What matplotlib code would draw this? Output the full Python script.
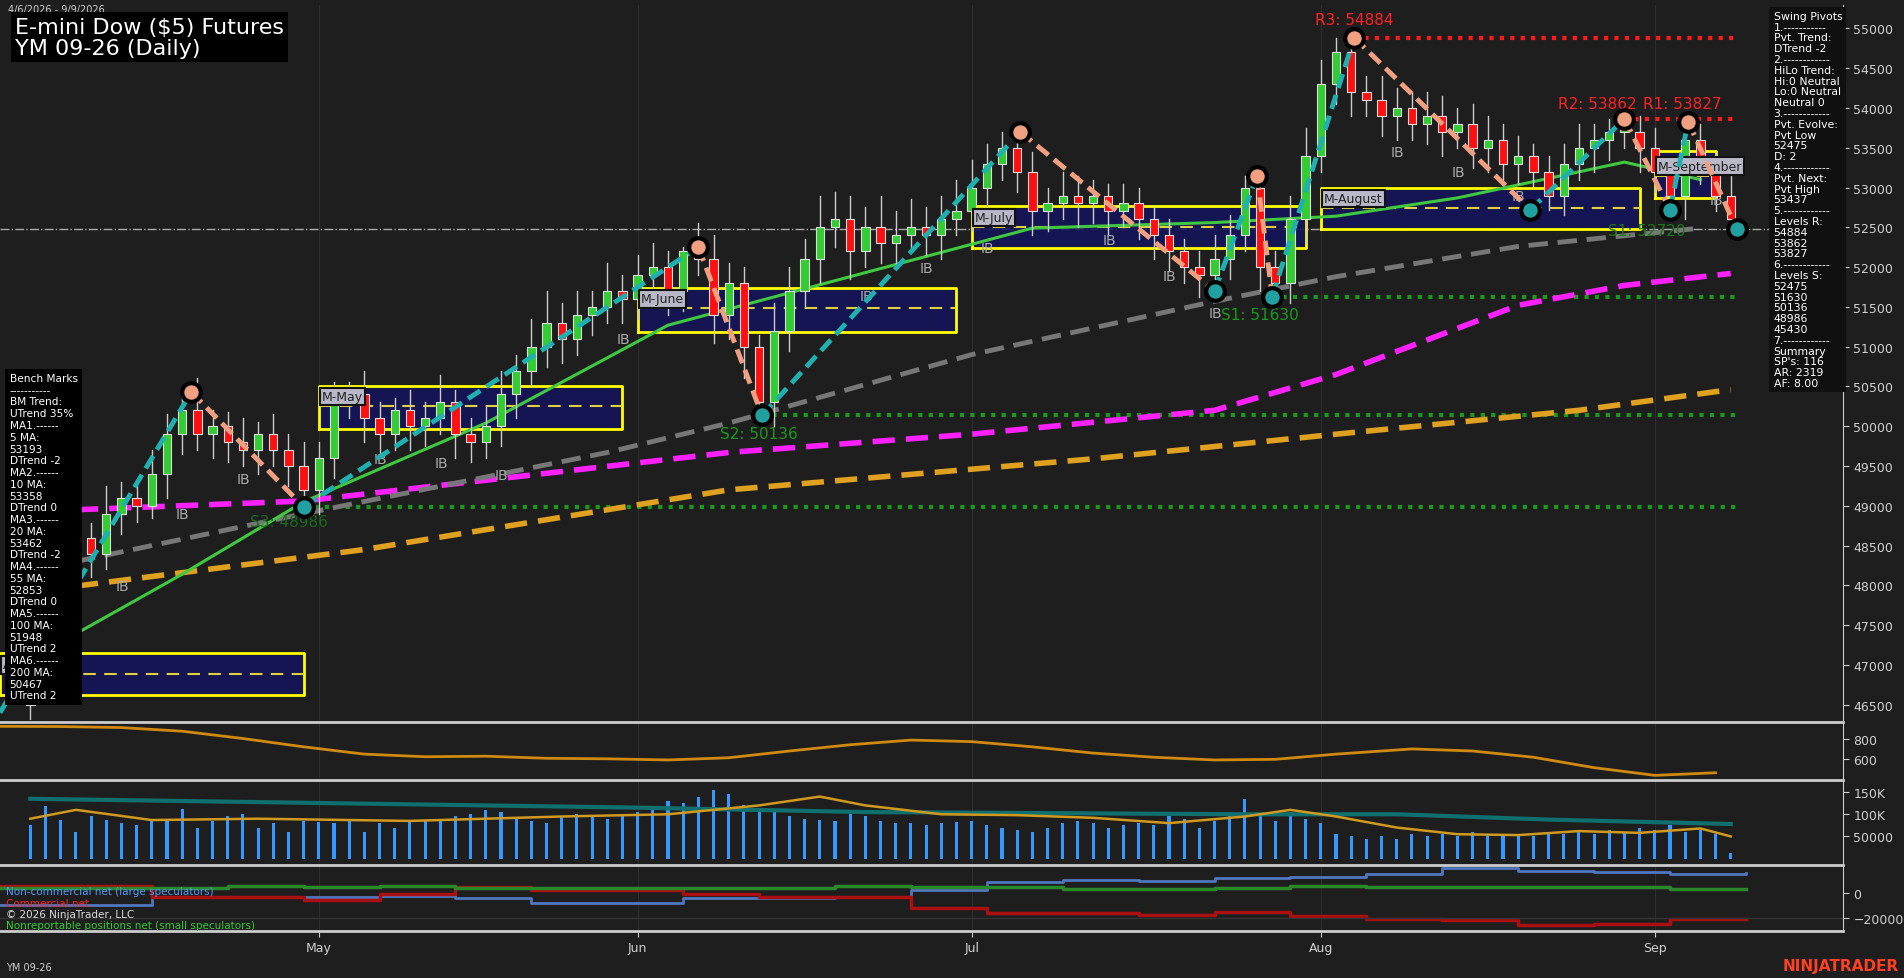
import matplotlib.pyplot as plt
import numpy as np

# daily closes, Apr 6 - Sep 9 2026
closes = [46700, 47200, 48000, 48600, 48400, 48900, 49100, 49000, 49400, 49900,
          50200, 49900, 50000, 49800, 49700, 49900, 49700, 49500, 49200, 49600,
          50300, 50400, 50100, 49900, 50200, 50000, 50100, 50300, 49900, 49800,
          50000, 50400, 50700, 51000, 51300, 51100, 51400, 51500, 51700, 51600,
          51900, 52000, 51700, 52200, 52100, 51400, 51800, 51000, 50300, 51200,
          51700, 52100, 52500, 52600, 52200, 52500, 52300, 52400, 52500, 52400,
          52600, 52700, 53000, 53300, 53500, 53200, 52700, 52800, 52900, 52800,
          52900, 52700, 52800, 52600, 52400, 52200, 52000, 51900, 52100, 52400,
          53000, 52000, 51800, 52600, 53400, 54300, 54700, 54200, 54100, 53900,
          54000, 53800, 53900, 53700, 53800, 53500, 53600, 53300, 53400, 53200,
          52900, 53300, 53500, 53600, 53700, 53700, 53500, 53200, 52900, 53600,
          53300, 52900, 52600]
wick_up = [150, 200, 300, 250, 180, 350, 200, 150, 300, 250,
           230, 400, 200, 180, 300, 150, 250, 200, 300, 200,
           250, 150, 300, 200, 150, 250, 200, 350, 150, 200,
           250, 300, 200, 350, 400, 250, 300, 200, 350, 200,
           250, 300, 200, 50, 350, 300, 250, 200, 150, 350,
           300, 250, 400, 350, 300, 250, 400, 300, 350, 250,
           300, 400, 350, 250, 200, 300, 250, 200, 300, 250,
           200, 150, 250, 200, 150, 200, 150, 200, 300, 250,
           150, 250, 200, 300, 350, 300, 184, 250, 200, 300,
           250, 200, 300, 250, 200, 250, 300, 200, 250, 150,
           200, 250, 300, 200, 162, 150, 200, 250, 150, 227,
           200, 150, 250]
wick_dn = [200, 150, 250, 200, 300, 200, 250, 200, 150, 300,
           250, 200, 300, 250, 200, 300, 200, 250, 214, 300,
           250, 200, 300, 250, 200, 300, 250, 200, 300, 250,
           200, 250, 300, 200, 250, 300, 200, 250, 200, 300,
           250, 200, 300, 250, 200, 350, 300, 400, 164, 300,
           250, 200, 300, 250, 350, 200, 250, 300, 200, 250,
           300, 200, 250, 300, 200, 250, 300, 250, 200, 300,
           250, 300, 200, 250, 300, 250, 200, 270, 300, 250,
           200, 300, 170, 250, 300, 200, 250, 300, 200, 250,
           300, 200, 250, 300, 200, 250, 300, 200, 250, 180,
           180, 250, 200, 300, 250, 200, 300, 250, 180, 300,
           250, 200, 125]
ib_bars = [5, 9, 13, 17, 22, 26, 30, 38, 54, 58, 62, 70, 74, 77, 89, 93, 97, 110]

month_idx = [19, 40, 62, 85, 107]
month_lbl = ["May", "Jun", "Jul", "Aug", "Sep"]

# moving averages, sampled along the chart (index, price)
ma20 = [(0, 47070), (10, 48140), (18, 49050), (30, 50040), (42, 51270), (54, 51880),
        (66, 52490), (78, 52560), (86, 52640), (94, 52870), (105, 53320), (110, 53100)]
ma55 = [(3, 48300), (18, 48900), (38, 49670), (46, 50040), (62, 50900), (78, 51570),
        (86, 51880), (98, 52260), (110, 52490)]
ma100 = [(3, 48950), (18, 49060), (46, 49670), (62, 49900), (78, 50200), (86, 50650),
         (98, 51520), (105, 51770), (112, 51920)]
ma200 = [(3, 47990), (22, 48450), (46, 49200), (70, 49590), (86, 49900), (102, 50200),
         (112, 50460)]

# swing pivots (index, price, kind)
pivots = [(-2, 46400, "L"), (10.6, 50430, "H"), (18, 48986, "L"), (44, 52250, "H"),
          (48.2, 50136, "L"), (65.2, 53700, "H"), (78, 51700, "L"), (80.8, 53150, "H"),
          (81.8, 51630, "L"), (87.2, 54884, "H"), (98.8, 52720, "L"), (105, 53862, "H"),
          (108, 52720, "L"), (109.2, 53827, "H"), (112.4, 52475, "L")]

# monthly boxes: start, end, high, low, mid, label
months = [(-2, 18, 47150, 46620, 46880, "April"), (19, 39, 50500, 49970, 50250, "M-May"),
          (40, 61, 51740, 51190, 51480, "M-June"), (62, 84, 52770, 52240, 52500, "M-July"),
          (85, 106, 53000, 52480, 52740, "M-August"), (107, 111, 53460, 52870, 53150, "M-September")]

res_levels = [(87.2, 54884), (105, 53862)]
sup_levels = [(81.8, 51630), (48.2, 50136), (18, 48986)]

# lower panels
atr = [(-2, 917), (2, 915), (6, 905), (10, 870), (14, 800), (18, 720), (22, 650), (26, 625),
       (30, 630), (34, 610), (38, 605), (42, 594), (46, 615), (50, 680), (54, 740), (58, 785),
       (62, 770), (66, 720), (70, 660), (74, 620), (78, 594), (82, 600), (86, 650), (91, 700),
       (95, 680), (99, 620), (103, 520), (107, 446), (111, 471)]
volume = [75, 118, 88, 60, 96, 88, 80, 75, 90, 85, 112, 70, 85, 95, 100, 70, 80, 60, 85,
          82, 80, 85, 60, 80, 70, 82, 85, 90, 95, 100, 110, 105, 90, 85, 80, 95, 100, 95, 90, 100,
          105, 110, 130, 125, 140, 155, 145, 120, 110, 105, 95, 90, 88, 85, 100, 95, 85, 80, 80, 75, 80,
          82, 85, 75, 70, 65, 60, 70, 80, 85, 80, 70, 75, 80, 75, 95, 90, 70, 85, 100, 135, 95, 85,
          105, 90, 80, 55, 50, 45, 50, 45, 55, 50, 55, 50, 60, 55, 50, 55, 50, 60, 55, 60, 55,
          65, 60, 70, 65, 75, 60, 65, 55, 12]
vol_ma = [(0, 90), (3, 110), (8, 87), (15, 90), (25, 85), (35, 95), (42, 100), (48, 120),
          (52, 140), (55, 120), (60, 100), (65, 98), (70, 92), (75, 80), (80, 95), (83, 110),
          (86, 95), (90, 70), (94, 55), (98, 53), (102, 62), (106, 58), (110, 68), (112, 50)]
vol_avg = [(0, 135), (20, 125), (40, 115), (55, 105), (80, 100), (90, 100), (100, 88), (112, 78)]

cot_noncomm = [-10000, -10000, -3500, -3500, -3000, -2500, -4500, -8500, -8000, -4500, -4000,
               -3000, 2500, 8500, 10500, 10000, 12000, 12500, 15500, 20000, 18000, 17000,
               15000, 16500]
cot_comm = [6000, 6000, -3500, -3500, -5500, -500, 4500, 2000, 2000, -1000, -3000, -3000,
            -12000, -16000, -16000, -18000, -15500, -19000, -21500, -22000, -26000, -25000,
            -21000, -21000]
cot_small = [3800, 3800, 4000, 5500, 5000, 5500, 4000, 4200, 4200, 4200, 4200, 6000, 5000,
             5000, 3000, 3000, 4000, 6000, 5000, 4500, 5000, 5000, 3000, 3000]

swing_text = ("Swing Pivots\n1.-----------\nPvt. Trend:\nDTrend -2\n2.------------\nHiLo Trend:\n"
              "Hi:0 Neutral\nLo:0 Neutral\nNeutral 0\n3.------------\nPvt. Evolve:\nPvt Low\n52475\n"
              "D: 2\n4.------------\nPvt. Next:\nPvt High\n53437\n5.------------\nLevels R:\n54884\n"
              "53862\n53827\n6.------------\nLevels S:\n52475\n51630\n50136\n48986\n45430\n"
              "7.------------\nSummary\nSP's: 116\nAR: 2319\nAF: 8.00")
bench_text = ("Bench Marks\n-----------\nBM Trend:\nUTrend 35%\nMA1.------\n5 MA:\n53193\nDTrend -2\n"
              "MA2.------\n10 MA:\n53358\nDTrend 0\nMA3.------\n20 MA:\n53462\nDTrend -2\nMA4.------\n"
              "55 MA:\n52853\nDTrend 0\nMA5.------\n100 MA:\n51948\nUTrend 2\nMA6.------\n200 MA:\n"
              "50467\nUTrend 2")

BG = "#1e1e1e"
FG = "#d0d0d0"
XMIN, XMAX = -2, 119.4

fig = plt.figure(figsize=(19.04, 9.79), dpi=100, facecolor=BG)
ax = fig.add_axes([0, 0.2635, 0.968, 0.730])
ax2 = fig.add_axes([0, 0.204, 0.968, 0.057], sharex=ax)
ax3 = fig.add_axes([0, 0.1175, 0.968, 0.085], sharex=ax)
ax4 = fig.add_axes([0, 0.048, 0.968, 0.067], sharex=ax)

for a in (ax, ax2, ax3, ax4):
    a.set_facecolor(BG)
    a.yaxis.tick_right()
    a.tick_params(colors=FG, labelsize=9, length=4)
    for s in a.spines.values():
        s.set_visible(False)
    a.spines["right"].set_visible(True)
    a.spines["right"].set_color("#cccccc")
    for m in month_idx:
        a.axvline(m, color="#2e2e2e", lw=0.8, zorder=0)
for a in (ax2, ax3, ax4):
    a.spines["top"].set_visible(True)
    a.spines["top"].set_color("#cccccc")
    a.spines["top"].set_linewidth(2)
ax4.spines["bottom"].set_visible(True)
ax4.spines["bottom"].set_color("#cccccc")
ax4.spines["bottom"].set_linewidth(2)

ax.set_xlim(XMIN, XMAX)
ax.set_ylim(46307, 55290)
ax.set_yticks(np.arange(46500, 55001, 500))
ax.set_yticklabels([str(v) for v in np.arange(46500, 55001, 500)])

# horizontal reference lines
ax.axhline(52475, color="#aaaaaa", lw=1, ls="-.", zorder=1)
for i, p in res_levels:
    ax.plot([i, 112.5], [p, p], color="#ff1a1a", lw=3, ls=(0, (1, 1.5)), zorder=3)
for i, p in sup_levels:
    ax.plot([i, 112.5], [p, p], color="#1a9a1a", lw=3, ls=(0, (1, 1.5)), zorder=1)

# monthly boxes
for s, e, hi, lo, mid, lbl in months:
    ax.fill_between([s, e], lo, hi, color="#14145a", alpha=0.9, zorder=1)
    ax.plot([s, e, e, s, s], [lo, lo, hi, hi, lo], color="#ffff00", lw=2, zorder=2)
    ax.plot([s, e], [mid, mid], color="#e0d040", lw=1.5, ls=(0, (6, 4)), zorder=2)
    ax.text(s + 0.2, mid + 120, lbl, fontsize=9, color="#222222", va="center",
            bbox=dict(facecolor="#b8b8c8", edgecolor="#111111", lw=1.5, pad=1.5), zorder=6)

# moving averages
for pts, col, lw, ls in [(ma200, "#e0a020", 4, (0, (4, 2))), (ma100, "#ff20ff", 4, (0, (4, 2))),
                         (ma55, "#777777", 3.5, (0, (4, 2))), (ma20, "#40c840", 2.2, "-")]:
    xs, ys = zip(*pts)
    ax.plot(xs, ys, color=col, lw=lw, ls=ls, zorder=3)

# candles
opens = [closes[0] - 200] + closes[:-1]
for i, (o, c) in enumerate(zip(opens, closes)):
    hi = max(o, c) + wick_up[i]
    lo = min(o, c) - wick_dn[i]
    col = "#33cc33" if c >= o else "#ff1010"
    ax.plot([i, i], [lo, hi], color="#cccccc", lw=1, zorder=4)
    ax.bar(i, max(abs(c - o), 20), bottom=min(o, c), width=0.55, color=col,
           edgecolor="#dddddd", lw=0.8, zorder=5)
    if i in ib_bars:
        ax.text(i + 0.6, lo - 120, "IB", color="#aaaaaa", fontsize=10, va="top", zorder=5)

# swing zigzag
for (x0, y0, k0), (x1, y1, k1) in zip(pivots[:-1], pivots[1:]):
    col = "#20b0b0" if k0 == "L" else "#f0a080"
    ax.plot([x0, x1], [y0, y1], color=col, lw=3.5, ls=(0, (3, 1.5)), zorder=6)
for x, y, k in pivots[1:]:
    fc = "#f0a080" if k == "H" else "#20a0a0"
    ax.scatter([x], [y], s=180, color=fc, edgecolors="black", linewidths=3, zorder=7)

ax.text(87.2, 55050, "R3: 54884", color="#ff2020", fontsize=11, ha="center")
ax.text(103.2, 54000, "R2: 53862", color="#ff2020", fontsize=11, ha="center")
ax.text(108.8, 54000, "R1: 53827", color="#ff2020", fontsize=11, ha="center")
ax.text(81, 51350, "S1: 51630", color="#1a9a1a", fontsize=11, ha="center")
ax.text(48, 49850, "S2: 50136", color="#1a9a1a", fontsize=11, ha="center")
ax.text(17, 48750, "S3: 48986", color="#1a6a1a", fontsize=11, ha="center")
ax.text(106.5, 52400, "S1: 52720", color="#1a7a1a", fontsize=11, ha="center")

# info boxes
fig.text(0.004, 0.995, "4/6/2026 - 9/9/2026", color=FG, fontsize=7, va="top")
fig.text(0.008, 0.982, "E-mini Dow ($5) Futures\nYM 09-26 (Daily)", color="white", fontsize=16,
         va="top", linespacing=1.1,
         bbox=dict(facecolor="black", edgecolor="none", pad=3))
fig.text(0.9315, 0.988, swing_text, color="white", fontsize=7.8, va="top", linespacing=1.1,
         bbox=dict(facecolor="#101010", edgecolor="none", pad=3))
fig.text(0.005, 0.618, bench_text, color="white", fontsize=7.6, va="top", linespacing=1.22,
         bbox=dict(facecolor="black", edgecolor="none", pad=3))

# ATR panel
xs, ys = zip(*atr)
ax2.plot(xs, ys, color="#d08a10", lw=2)
ax2.set_ylim(418, 954)
ax2.set_yticks([600, 800])

# volume panel
ax3.bar(range(len(volume)), np.array(volume) * 1000, width=0.2, color="#3399ff")
xs, ys = zip(*vol_avg)
ax3.plot(xs, np.array(ys) * 1000, color="#107070", lw=3)
xs, ys = zip(*vol_ma)
ax3.plot(xs, np.array(ys) * 1000, color="#d09a20", lw=1.8)
ax3.set_ylim(-10000, 178000)
ax3.set_yticks([50000, 100000, 150000])
ax3.set_yticklabels(["50000", "100K", "150K"])

# COT panel (weekly)
weeks = np.arange(len(cot_noncomm)) * 5 - 2
ax4.step(weeks, cot_noncomm, where="post", color="#5077c0", lw=2)
ax4.step(weeks, cot_comm, where="post", color="#aa1010", lw=2.5)
ax4.step(weeks, cot_small, where="post", color="#2a8a2a", lw=2.5)
ax4.axhline(-20000, color="#333333", lw=1)
ax4.set_ylim(-30900, 22300)
ax4.set_yticks([-20000, 0])
ax4.text(0.003, 0.56, "Non-commercial net (large speculators)", color="#5599ff", fontsize=7.5,
         transform=ax4.transAxes)
ax4.text(0.003, 0.38, "Commercial net", color="#ff2020", fontsize=7.5, transform=ax4.transAxes)
ax4.text(0.003, 0.21, "© 2026 NinjaTrader, LLC", color="#dddddd", fontsize=7.5,
         transform=ax4.transAxes)
ax4.text(0.003, 0.04, "Nonreportable positions net (small speculators)", color="#33cc33",
         fontsize=7.5, transform=ax4.transAxes)

for a in (ax, ax2, ax3):
    a.tick_params(axis="x", bottom=False, labelbottom=False)
ax4.set_xticks(month_idx)
ax4.set_xticklabels(month_lbl)
ax4.tick_params(axis="x", colors=FG, labelsize=9)

fig.text(0.003, 0.008, "YM 09-26", color=FG, fontsize=7)
fig.text(0.997, 0.008, "NINJATRADER", color="#ff4020", fontsize=11, ha="right", weight="bold")

fig.savefig("out.png", dpi=100, facecolor=BG)
